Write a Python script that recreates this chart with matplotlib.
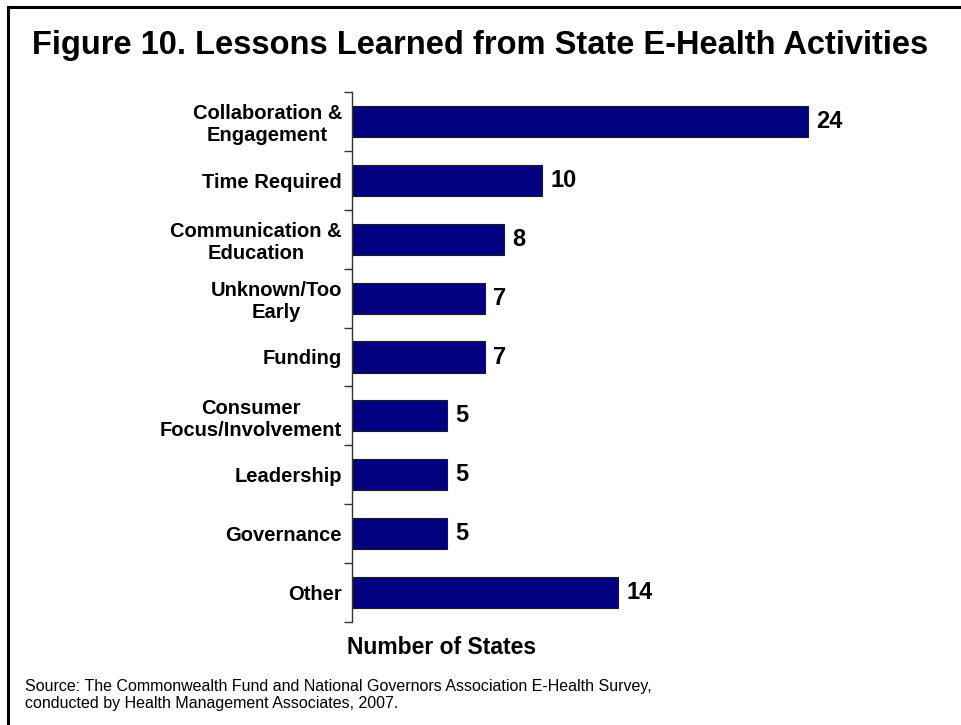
import matplotlib
matplotlib.use("Agg")
import matplotlib.pyplot as plt
from matplotlib.lines import Line2D

categories = ["Collaboration &\nEngagement", "Time Required", "Communication &\nEducation",
              "Unknown/Too\nEarly", "Funding", "Consumer\nFocus/Involvement",
              "Leadership", "Governance", "Other"]
values = [24, 10, 8, 7, 7, 5, 5, 5, 14]

plt.rcParams['font.family'] = ['Liberation Sans', 'DejaVu Sans']

fig = plt.figure(figsize=(9.61, 7.25), dpi=100)
ax = fig.add_axes([352/961, 103/725, 570/961, 530/725])

pos = list(range(len(categories)))
ax.barh(pos, values, height=0.53, color='#000080', edgecolor='#1a1a1a', linewidth=0.8)
ax.set_ylim(len(categories) - 0.5, -0.5)
ax.set_xlim(0, 30)

ax.set_yticks(pos)
ax.set_yticklabels(categories, fontsize=14.5, fontweight='bold', multialignment='center',
                   linespacing=1.18)
ax.set_yticks([i - 0.5 for i in range(len(categories) + 1)], minor=True)
ax.tick_params(axis='y', which='major', length=0, pad=7.2)
ax.tick_params(axis='y', which='minor', length=6, width=1, color='#333333', direction='out')
ax.set_xticks([])
for s in ['top', 'right', 'bottom']:
    ax.spines[s].set_visible(False)
ax.spines['left'].set_color('#333333')
ax.spines['left'].set_linewidth(1)

for p, v in zip(pos, values):
    ax.annotate(str(v), xy=(v, p), xytext=(6, 0), textcoords='offset points',
                va='center', ha='left', fontsize=17, fontweight='bold')

fig.text(480/961, 1 - 54/725, "Figure 10. Lessons Learned from State E-Health Activities",
         ha='center', va='baseline', fontsize=23.5, fontweight='bold')
fig.text(442/961, 1 - 648/725, "Number of States", ha='center', va='center',
         fontsize=16.5, fontweight='bold')
fig.text(25/961, 1 - 695/725,
         "Source: The Commonwealth Fund and National Governors Association E-Health Survey,\nconducted by Health Management Associates, 2007.",
         ha='left', va='center', fontsize=11.5, linespacing=1.15)

fig.add_artist(Line2D([8/961, 1], [1 - 7/725, 1 - 7/725], transform=fig.transFigure, color='black', linewidth=2.2))
fig.add_artist(Line2D([8/961, 8/961], [1 - 7/725, 0], transform=fig.transFigure, color='black', linewidth=2.2))

fig.savefig("out.png", dpi=100, facecolor='white')
